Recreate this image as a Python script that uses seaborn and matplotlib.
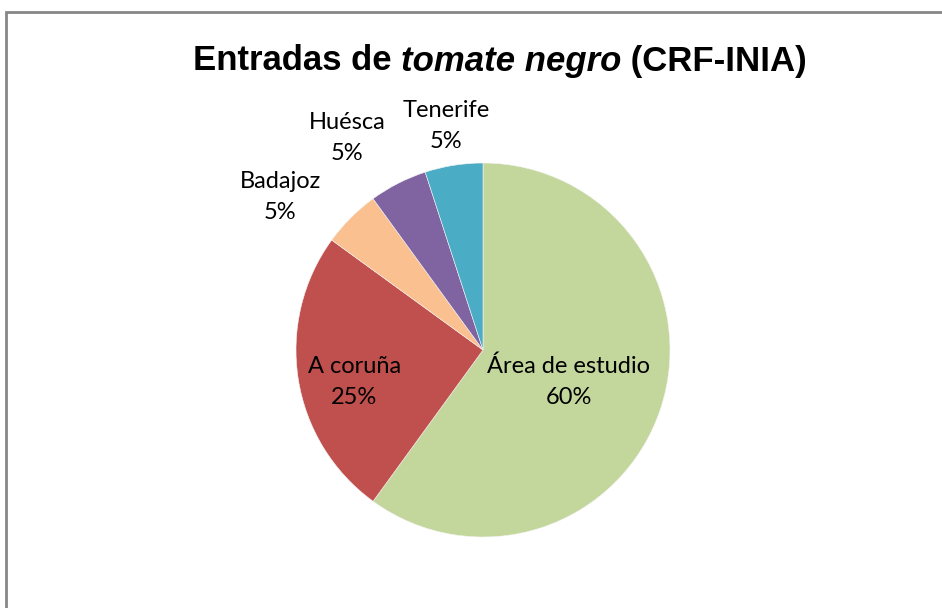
import matplotlib
matplotlib.use("Agg")
import matplotlib.pyplot as plt
import seaborn as sns
import numpy as np
from matplotlib.patches import Rectangle

# data
zonas = ["Área de estudio", "A coruña", "Badajoz", "Huésca", "Tenerife"]
porcentajes = [60, 25, 5, 5, 5]
colores = ["#C3D69B", "#C0504D", "#FAC090", "#8064A2", "#4BACC6"]
# label distance (in radii) and small angular nudge per slice, as in the Excel layout
dist_etiqueta = [0.49, 0.71, 1.356, 1.347, 1.214]
ajuste_angulo = [-2.4, 5, 8, 5.7, 0.4]

sns.set_theme(style="white")
plt.rcParams["font.family"] = ["Lato", "DejaVu Sans"]

fig = plt.figure(figsize=(9.42, 6.08), dpi=100)
fig.patch.set_facecolor("white")

# grey chart border
fig.add_artist(Rectangle((6 / 942, -0.05), 1.1, (608 - 12) / 608 + 0.05,
                         transform=fig.transFigure, fill=False,
                         edgecolor="#878787", linewidth=2))

ax = fig.add_axes([(483 - 187) / 942, (258 - 187) / 608, 374 / 942, 374 / 608])
wedges, _ = ax.pie(porcentajes, colors=colores, startangle=90, counterclock=False,
                   wedgeprops=dict(linewidth=0.4, edgecolor="#f4f4f4"))
ax.set_xlim(-1, 1)
ax.set_ylim(-1, 1)
ax.set_aspect("equal")
ax.axis("off")

for w, nombre, p, d, da in zip(wedges, zonas, porcentajes, dist_etiqueta, ajuste_angulo):
    ang = np.deg2rad((w.theta1 + w.theta2) / 2 + da)
    ax.text(d * np.cos(ang), d * np.sin(ang), f"{nombre}\n{p}%",
            ha="center", va="center", fontsize=17, color="black",
            linespacing=1.6, clip_on=False)

# title with italic part
fam = ["Liberation Sans Narrow", "Liberation Sans", "DejaVu Sans"]
partes = [("Entradas de ", "normal"), ("tomate negro", "italic"), (" (CRF-INIA)", "normal")]
textos = []
for s, estilo in partes:
    textos.append(fig.text(0, (608 - 61) / 608, s, fontsize=25, fontweight="bold",
                           style=estilo, family=fam, va="center", ha="left",
                           color="black"))
fig.canvas.draw()
r = fig.canvas.get_renderer()
anchos = [t.get_window_extent(r).width for t in textos]
x = 500 - sum(anchos) / 2
for t, a in zip(textos, anchos):
    t.set_x(x / 942)
    x += a

fig.savefig("out.png", dpi=100)
